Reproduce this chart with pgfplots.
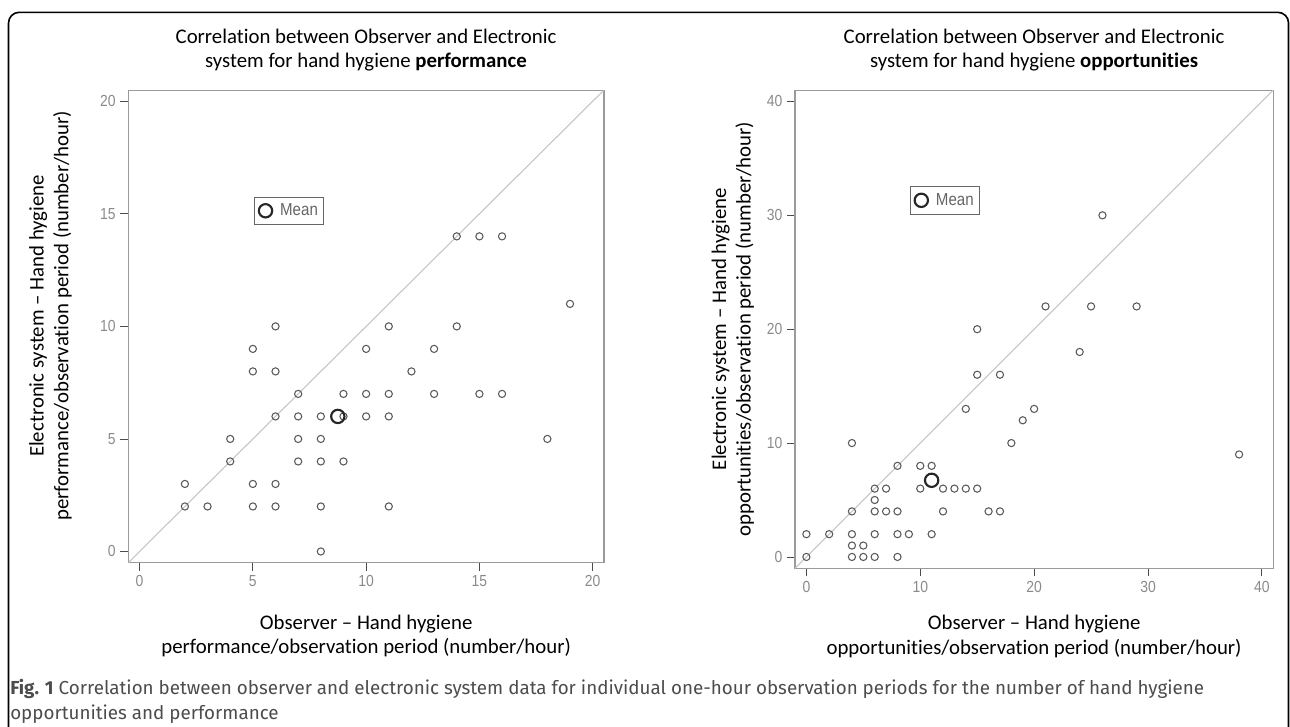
\documentclass[border=0pt]{standalone}
\usepackage{fontspec}
\usepackage{pgfplots}
\pgfplotsset{compat=1.18}
\setmainfont{Carlito}[Ligatures={TeX,NoCommon}]
\newfontfamily\tickfont{Liberation Sans}[FakeStretch=0.87]
\newfontfamily\capfont{Fira Sans}
\definecolor{tickgray}{HTML}{8A8A8A}
\definecolor{ptgray}{HTML}{5A5A5A}
\definecolor{diaggray}{HTML}{C4C4C4}
\definecolor{boxgray}{HTML}{9A9A9A}
\pgfplotsset{
  hhstyle/.style={
    scale only axis,
    axis line style={boxgray, line width=0.8pt},
    tick align=outside,
    xtick pos=bottom, ytick pos=left,
    major tick length=6pt,
    tick style={black!70, line width=0.6pt},
    /pgf/number format/assume math mode=true,
    tick label style={font=\tickfont\fontsize{12}{12}\selectfont, text=tickgray},
    label style={font=\fontsize{15.6}{18.5}\selectfont, align=center},
    legend style={draw=black!60, line width=0.6pt, fill=white,
      font=\tickfont\fontsize{13}{13}\selectfont, text=black!60,
      inner xsep=2pt, inner ysep=3pt, anchor=north west},
    legend image code/.code={\draw[black!85, line width=1.6pt] (6pt,0) circle (5pt); \path[draw=none] (0,0) -- (15pt,0);},
  }
}
\begin{document}
\begin{tikzpicture}
\useasboundingbox (0,0) rectangle (967.5pt,545.25pt);
\draw[line width=1.2pt, rounded corners=8pt] (6.4pt,-10pt) -- (6.4pt,536pt) -- (966.4pt,536pt) -- (966.4pt,-10pt);

\node[align=center, font=\fontsize{15.6}{18}\selectfont] at (274.5pt,508pt)
  {Correlation between Observer and Electronic\\system for hand hygiene \textbf{performance}};
\node[align=center, font=\fontsize{15.6}{18}\selectfont] at (775.5pt,508pt)
  {Correlation between Observer and Electronic\\system for hand hygiene \textbf{opportunities}};

\begin{axis}[hhstyle,
  at={(96.2pt,123.2pt)}, anchor=south west,
  width=356.8pt, height=354.5pt,
  xmin=-0.5, xmax=20.5, ymin=-0.5, ymax=20.5,
  xtick={0,5,10,15,20}, ytick={0,5,10,15,20},
  xlabel={Observer – Hand hygiene\\performance/observation period (number/hour)},
  ylabel={Electronic system – Hand hygiene\\performance/observation period (number/hour)},
  xlabel style={at={(axis description cs:0.5,-0.155)}, anchor=center},
  ylabel style={at={(axis description cs:-0.1636,0.522)}, anchor=center, rotate=0},
  legend style={at={(axis cs:5.07,15.76)}},
]
\addplot[diaggray, line width=0.8pt, forget plot] coordinates {(-0.5,-0.5) (20.5,20.5)};
\addplot[only marks, mark=o, mark size=2.7pt, ptgray, line width=0.8pt, forget plot] table {
x y
14 14
15 14
16 14
19 11
6 10
11 10
14 10
5 9
10 9
13 9
5 8
6 8
12 8
7 7
9 7
10 7
11 7
13 7
15 7
16 7
6 6
7 6
8 6
9 6
10 6
11 6
4 5
7 5
8 5
18 5
4 4
7 4
8 4
9 4
2 3
5 3
6 3
2 2
3 2
5 2
6 2
8 2
11 2
8 0
};
\addplot[only marks, mark=o, mark size=5pt, black!85, line width=1.6pt] coordinates {(8.75,6)};
\addlegendentry{Mean}
\end{axis}

\begin{axis}[hhstyle,
  at={(596.25pt,119.0pt)}, anchor=south west,
  width=358.7pt, height=358.7pt,
  xmin=-1, xmax=41, ymin=-1, ymax=41,
  xtick={0,10,20,30,40}, ytick={0,10,20,30,40},
  xlabel={Observer – Hand hygiene\\opportunities/observation period (number/hour)},
  ylabel={Electronic system – Hand hygiene\\opportunities/observation period (number/hour)},
  xlabel style={at={(axis description cs:0.5,-0.143)}, anchor=center},
  ylabel style={at={(axis description cs:-0.130,0.50)}, anchor=center, rotate=0},
  legend style={at={(axis cs:9.12,32.55)}},
]
\addplot[diaggray, line width=0.8pt, forget plot] coordinates {(-1,-1) (41,41)};
\addplot[only marks, mark=o, mark size=2.7pt, ptgray, line width=0.8pt, forget plot] table {
x y
26 30
21 22
25 22
29 22
15 20
24 18
15 16
17 16
14 13
20 13
19 12
18 10
4 10
38 9
8 8
10 8
11 8
6 6
7 6
10 6
12 6
13 6
14 6
15 6
6 5
4 4
6 4
7 4
8 4
12 4
16 4
17 4
0 2
2 2
4 2
6 2
8 2
9 2
11 2
4 1
5 1
0 0
4 0
5 0
6 0
8 0
};
\addplot[only marks, mark=o, mark size=5pt, black!85, line width=1.6pt] coordinates {(11,6.73)};
\addlegendentry{Mean}
\end{axis}

\node[anchor=west, inner sep=0pt, font=\capfont\fontsize{14.1}{14.1}\selectfont, text=black!70] at (7.5pt,28.5pt)
  {\textbf{Fig. 1} Correlation between observer and electronic system data for individual one-hour observation periods for the number of hand hygiene};
\node[anchor=west, inner sep=0pt, font=\capfont\fontsize{14.1}{14.1}\selectfont, text=black!70] at (7.5pt,9.75pt)
  {opportunities and performance};
\end{tikzpicture}
\end{document}
